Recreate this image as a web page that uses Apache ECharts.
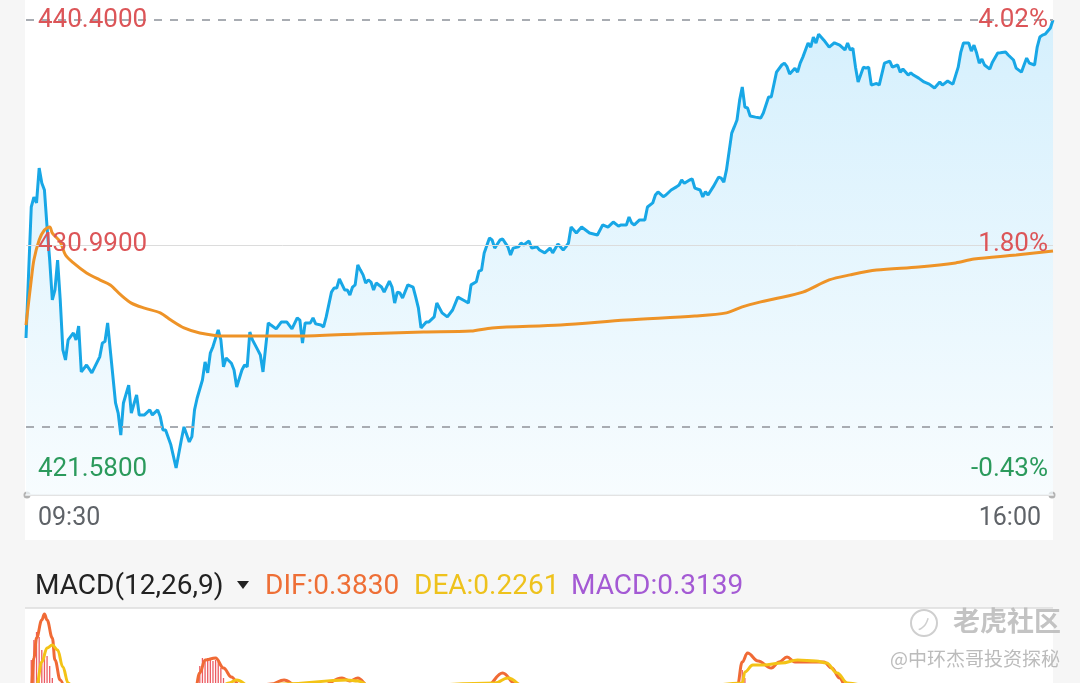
<!DOCTYPE html>
<html>
<head>
<meta charset="utf-8">
<title>分时 MACD</title>
<script src="https://cdn.jsdelivr.net/npm/echarts@6.0.0/dist/echarts.min.js"></script>
<style>
  body { margin: 0; background: #f6f6f6; }
  #main { width: 1080px; height: 683px; }
</style>
</head>
<body>
<div id="main"></div>
<script>
// 分时数据（分钟数从 09:30 起算）
var timeTicks = [0, 390];
var timeLabels = ['09:30', '16:00'];
var prevClose = 423.38;
var priceTicks = [421.58, 430.99, 440.40];
var priceAxisMin = 420.53;
var priceAxisMax = 441.24;

var priceMinutes = [
  0, 2, 3, 4, 5, 6, 7, 8, 9, 10,
  11, 12, 13, 14, 15, 16, 18, 19, 20, 21,
  23, 25, 28, 29, 30, 31, 32, 34, 35, 36,
  37, 39, 40, 42, 43, 45, 47, 48, 50, 51,
  52, 53, 55, 57, 59, 60, 62, 63, 64, 65,
  67, 68, 69, 70, 71, 73, 74, 75, 76, 78,
  79, 80, 82, 83, 84, 85, 86, 88, 89, 90,
  92, 93, 95, 97, 99, 101, 103, 104, 105, 106,
  108, 109, 110, 112, 113, 114, 116, 117, 118, 119,
  121, 122, 123, 124, 125, 126, 127, 128, 129, 130,
  131, 132, 133, 135, 136, 138, 139, 140, 141, 142,
  143, 145, 147, 148, 149, 150, 152, 153, 155, 156,
  158, 160, 162, 164, 166, 168, 169, 171, 172, 173,
  174, 176, 177, 178, 180, 181, 183, 184, 185, 187,
  188, 189, 191, 192, 194, 195, 197, 199, 200, 202,
  204, 205, 206, 207, 209, 211, 212, 214, 217, 219,
  221, 223, 225, 226, 228, 229, 230, 231, 233, 235,
  236, 238, 239, 240, 242, 243, 245, 247, 248, 249,
  250, 252, 253, 254, 256, 257, 258, 259, 261, 263,
  264, 265, 266, 268, 269, 270, 271, 272, 273, 274,
  275, 277, 279, 280, 282, 283, 285, 287, 288, 289,
  290, 292, 293, 294, 295, 297, 298, 299, 300, 301,
  303, 305, 307, 309, 311, 312, 313, 314, 315, 316,
  318, 319, 320, 321, 323, 324, 326, 327, 328, 329,
  331, 332, 333, 335, 336, 337, 339, 341, 343, 345,
  347, 348, 350, 351, 352, 354, 355, 356, 358, 359,
  360, 361, 362, 363, 364, 366, 367, 369, 370, 372,
  373, 375, 376, 378, 379, 380, 381, 383, 384, 385,
  386, 387, 389, 390
];
var priceValues = [
  427.10, 432.58, 432.99, 432.75, 434.21, 433.58, 433.29, 431.74, 430.36, 428.69,
  429.11, 430.36, 428.69, 426.60, 426.18, 427.02, 427.31, 427.02, 427.60, 425.68,
  425.97, 425.64, 426.31, 426.89, 426.95, 427.73, 426.60, 424.38, 423.96, 423.04,
  424.38, 425.13, 423.96, 424.72, 423.88, 423.88, 424.09, 423.88, 424.09, 423.80,
  423.25, 423.25, 422.63, 421.66, 422.84, 423.38, 422.75, 422.97, 424.09, 424.59,
  425.34, 426.10, 425.64, 426.47, 426.74, 427.44, 427.02, 425.89, 426.26, 426.04,
  425.76, 425.05, 425.76, 425.97, 425.89, 427.35, 427.02, 426.60, 426.39, 425.68,
  427.73, 427.64, 427.48, 427.77, 427.77, 427.48, 427.94, 427.85, 426.89, 427.73,
  427.73, 427.94, 427.69, 427.64, 427.56, 427.98, 429.02, 429.19, 429.19, 429.57,
  429.11, 429.11, 428.90, 429.23, 429.32, 430.15, 429.94, 429.74, 429.40, 429.53,
  429.44, 429.11, 429.40, 429.23, 429.02, 429.48, 429.23, 428.56, 429.02, 428.98,
  428.77, 429.32, 429.23, 428.81, 428.36, 427.52, 427.77, 427.77, 427.98, 428.56,
  428.15, 427.98, 428.27, 428.81, 428.69, 428.56, 429.32, 429.45, 429.90, 429.94,
  430.66, 431.28, 431.20, 430.86, 431.20, 431.24, 430.91, 430.57, 430.86, 430.91,
  431.07, 430.99, 431.16, 430.86, 430.91, 430.78, 430.66, 430.86, 430.66, 431.03,
  430.78, 430.91, 431.07, 431.74, 431.49, 431.74, 431.66, 431.49, 431.41, 431.83,
  431.74, 431.95, 431.78, 431.83, 431.83, 432.16, 431.91, 431.83, 432.04, 432.04,
  432.58, 432.75, 433.08, 433.21, 433.01, 433.08, 433.29, 433.42, 433.50, 433.71,
  433.57, 433.71, 433.75, 433.37, 433.29, 433.00, 433.22, 433.08, 433.43, 433.83,
  433.79, 433.62, 434.13, 435.67, 435.94, 436.22, 437.05, 437.60, 436.76, 436.72,
  436.39, 436.34, 436.30, 436.51, 437.18, 437.18, 438.22, 438.52, 438.60, 438.45,
  438.14, 438.38, 438.22, 438.60, 438.85, 439.44, 439.27, 439.69, 439.44, 439.81,
  439.56, 439.27, 439.45, 439.35, 439.15, 439.44, 439.15, 439.22, 438.43, 437.81,
  438.43, 438.39, 438.43, 437.68, 437.75, 437.68, 438.60, 438.64, 438.68, 438.43,
  438.52, 438.22, 438.35, 438.10, 438.19, 438.10, 437.97, 437.81, 437.72, 437.56,
  437.81, 437.68, 437.85, 437.78, 437.72, 438.43, 439.06, 439.44, 439.44, 439.10,
  439.35, 439.02, 438.60, 438.77, 438.52, 438.35, 438.64, 439.02, 439.03, 439.06,
  438.94, 438.73, 438.39, 438.22, 438.52, 438.81, 438.60, 438.52, 439.27, 439.69,
  439.77, 439.81, 440.07, 440.40
];

// 均价线
var avgMinutes = [0, 2, 3, 5, 7, 9, 10, 13, 15, 18, 23, 28, 32, 36, 40, 45, 51, 55, 60, 66,
  75, 104, 126, 151, 169, 177, 203, 228, 254, 266, 272, 279, 284, 295, 305, 313, 323, 339, 353, 360, 376, 390];
var avgValues = [427.64, 429.53, 430.36, 431.20, 431.62, 431.74, 431.49, 431.12, 430.57, 430.24,
  429.82, 429.53, 429.32, 428.90, 428.56, 428.35, 428.15, 427.85, 427.52, 427.31,
  427.18, 427.18, 427.27, 427.35, 427.39, 427.52, 427.64, 427.85, 428.02, 428.15,
  428.40, 428.61, 428.73, 429.02, 429.53, 429.74, 429.94, 430.07, 430.24, 430.40, 430.57, 430.74];

// MACD(12,26,9)
var difMinutes = [0, 2, 3, 4, 6, 7, 8, 10, 11, 13, 16, 25, 40, 55, 62, 64, 66, 68, 72, 75,
  78, 81, 86, 93, 98, 103, 112, 120, 123, 126, 130, 140, 160, 175, 181, 186, 200, 230, 270, 272,
  274, 278, 283, 286, 289, 292, 297, 303, 306, 309, 311, 320, 340, 360, 375, 390];
var difValues = [0.00, 0.40, 0.70, 0.90, 1.08, 1.14, 1.08, 0.90, 0.68, 0.48, 0.30, 0.10, -0.10, -0.20, 0.00, 0.35, 0.55, 0.68, 0.70, 0.60,
  0.51, 0.43, 0.40, 0.44, 0.48, 0.42, 0.42, 0.50, 0.47, 0.50, 0.42, 0.35, 0.30, 0.42, 0.55, 0.44, 0.30, 0.25, 0.40, 0.66,
  0.75, 0.67, 0.60, 0.66, 0.71, 0.66, 0.66, 0.66, 0.60, 0.50, 0.43, 0.36, 0.30, 0.32, 0.36, 0.383];
var deaMinutes = [0, 4, 6, 8, 10, 12, 14, 16, 20, 40, 60, 70, 77, 80, 85, 98, 122, 126, 132, 178,
  183, 190, 230, 272, 273, 276, 280, 287, 293, 300, 304, 308, 312, 330, 390];
var deaValues = [0.00, 0.42, 0.66, 0.80, 0.83, 0.78, 0.61, 0.45, 0.30, 0.00, -0.15, 0.30, 0.45, 0.48, 0.42, 0.44, 0.48, 0.47, 0.40, 0.45,
  0.50, 0.40, 0.22, 0.45, 0.56, 0.63, 0.63, 0.65, 0.68, 0.67, 0.65, 0.55, 0.45, 0.30, 0.226];
var barMinutes = [2, 3, 4, 5, 6, 7, 8, 9, 10, 11, 65, 66, 67, 68, 69, 70, 71, 72, 73, 74, 75, 76, 272, 273];
var barValues = [0.68, 0.88, 0.96, 0.91, 0.78, 0.75, 0.72, 0.62, 0.50, 0.40, 0.45, 0.62, 0.70, 0.68, 0.70, 0.69, 0.67, 0.68, 0.66, 0.60, 0.50, 0.40, 0.58, 0.50];

function pairs(xs, ys) {
  return xs.map(function (x, i) { return [x, ys[i]]; });
}

var RED = '#dc5558';
var GREEN = '#2b9a5c';
var labelColor = function (v) { return Number(v) >= prevClose ? RED : GREEN; };

var chart = echarts.init(document.getElementById('main'));

var option = {
  backgroundColor: '#f6f6f6',
  animation: false,
  graphic: [
    { type: 'rect', z: -10, shape: { x: 25, y: 0, width: 1028, height: 540 }, style: { fill: '#ffffff' } },
    { type: 'rect', z: -10, shape: { x: 25, y: 608, width: 1028, height: 80 }, style: { fill: '#ffffff' } },
    { type: 'line', shape: { x1: 25, y1: 608, x2: 1053, y2: 608 }, style: { stroke: '#dddddd', lineWidth: 1.5 } },
    { type: 'circle', shape: { cx: 27, cy: 495, r: 3.5 }, style: { fill: '#b3b3b3' } },
    { type: 'circle', shape: { cx: 1052, cy: 495, r: 3.5 }, style: { fill: '#b3b3b3' } },
    // MACD 标题栏
    { type: 'text', style: { x: 35, y: 587, text: 'MACD(12,26,9)', font: '28px Roboto', fill: '#222222', verticalAlign: 'middle' } },
    { type: 'polygon', shape: { points: [[237, 581], [249, 581], [243, 589]] }, style: { fill: '#222222' } },
    { type: 'text', style: { x: 265, y: 587, text: 'DIF:0.3830', font: '28px Roboto', fill: '#ee6f36', verticalAlign: 'middle' } },
    { type: 'text', style: { x: 414, y: 587, text: 'DEA:0.2261', font: '28px Roboto', fill: '#eec21c', verticalAlign: 'middle' } },
    { type: 'text', style: { x: 571, y: 587, text: 'MACD:0.3139', font: '28px Roboto', fill: '#a45ad4', verticalAlign: 'middle' } },
    // 水印
    { type: 'circle', z: 50, shape: { cx: 924, cy: 623, r: 13 }, style: { fill: 'none', stroke: '#cfcfcf', lineWidth: 2 } },
    { type: 'text', z: 50, style: { x: 924, y: 624, text: 'ノ', font: '16px "Noto Sans CJK SC"', fill: '#cfcfcf', align: 'center', verticalAlign: 'middle' } },
    { type: 'text', z: 50, style: { x: 953, y: 621, text: '老虎社区', font: 'bold 27px "Noto Sans CJK SC"', fill: 'rgba(185,185,185,0.85)', verticalAlign: 'middle' } },
    { type: 'text', z: 50, style: { x: 890, y: 659, text: '@中环杰哥投资探秘', font: '19px "Noto Sans CJK SC"', fill: 'rgba(175,175,175,0.85)', verticalAlign: 'middle' } }
  ],
  grid: [
    { left: 26, right: 27, top: 0, height: 495 },
    // 仅露出 MACD 副图的上半部分
    { left: 26, right: 27, top: 608, height: 75 }
  ],
  xAxis: [
    {
      type: 'value', gridIndex: 0, min: 0, max: 390,
      axisLine: { show: true, lineStyle: { color: '#e3e3e3', width: 2 } },
      axisTick: { show: false },
      splitLine: { show: false },
      axisLabel: {
        customValues: timeTicks,
        formatter: function (v) { return timeLabels[timeTicks.indexOf(Number(v))]; },
        alignMinLabel: 'left', alignMaxLabel: 'right',
        padding: [0, 12, 0, 12], margin: 11,
        color: '#5f6368', fontSize: 25, fontFamily: 'Roboto'
      }
    },
    { type: 'value', gridIndex: 1, min: 0, max: 390, show: false }
  ],
  yAxis: [
    {
      type: 'value', gridIndex: 0, position: 'left', min: priceAxisMin, max: priceAxisMax,
      axisLine: { show: false }, axisTick: { show: false }, splitLine: { show: false },
      axisLabel: {
        inside: true, margin: 12, customValues: priceTicks,
        formatter: function (v) { return Number(v).toFixed(4); },
        color: labelColor, fontSize: 26, fontFamily: 'Roboto'
      },
      z: 5
    },
    {
      type: 'value', gridIndex: 0, position: 'right', min: priceAxisMin, max: priceAxisMax,
      axisLine: { show: false }, axisTick: { show: false }, splitLine: { show: false },
      axisLabel: {
        inside: true, margin: 5, customValues: priceTicks,
        formatter: function (v) { return ((Number(v) / prevClose - 1) * 100).toFixed(2) + '%'; },
        color: labelColor, fontSize: 26, fontFamily: 'Roboto'
      },
      z: 5
    },
    { type: 'value', gridIndex: 1, min: 0.45, max: 1.2, show: false }
  ],
  series: [
    {
      name: '价格', type: 'line', xAxisIndex: 0, yAxisIndex: 0,
      data: pairs(priceMinutes, priceValues),
      symbol: 'none', z: 3,
      lineStyle: { color: '#18a7e6', width: 3 },
      areaStyle: {
        color: new echarts.graphic.LinearGradient(0, 0, 0, 1, [
          { offset: 0, color: '#c3e9fc' },
          { offset: 1, color: '#f4fbfe' }
        ])
      },
      markLine: {
        silent: true, symbol: ['none', 'none'], label: { show: false },
        data: [
          { yAxis: priceTicks[2], lineStyle: { type: [8, 8], color: '#a8acb2', width: 2 } },
          { yAxis: prevClose, lineStyle: { type: [8, 8], color: '#a8acb2', width: 2 } },
          { yAxis: priceTicks[1], lineStyle: { type: 'solid', color: '#dcdcdc', width: 1 } }
        ]
      }
    },
    {
      name: '均价', type: 'line', xAxisIndex: 0, yAxisIndex: 0,
      data: pairs(avgMinutes, avgValues),
      symbol: 'none', smooth: 0.3, z: 4,
      lineStyle: { color: '#ee9327', width: 3 }
    },
    {
      name: 'MACD', type: 'bar', xAxisIndex: 1, yAxisIndex: 2,
      data: pairs(barMinutes, barValues),
      barWidth: 1.3, clip: true, itemStyle: { color: '#ec5b62' }
    },
    {
      name: 'DIF', type: 'line', xAxisIndex: 1, yAxisIndex: 2,
      data: pairs(difMinutes, difValues),
      symbol: 'none', smooth: 0.4, smoothMonotone: 'x', clip: true,
      lineStyle: { color: '#f06a35', width: 3 }
    },
    {
      name: 'DEA', type: 'line', xAxisIndex: 1, yAxisIndex: 2,
      data: pairs(deaMinutes, deaValues),
      symbol: 'none', smooth: 0.4, smoothMonotone: 'x', clip: true,
      lineStyle: { color: '#f3c316', width: 3 }
    }
  ]
};

chart.setOption(option);
</script>
</body>
</html>
